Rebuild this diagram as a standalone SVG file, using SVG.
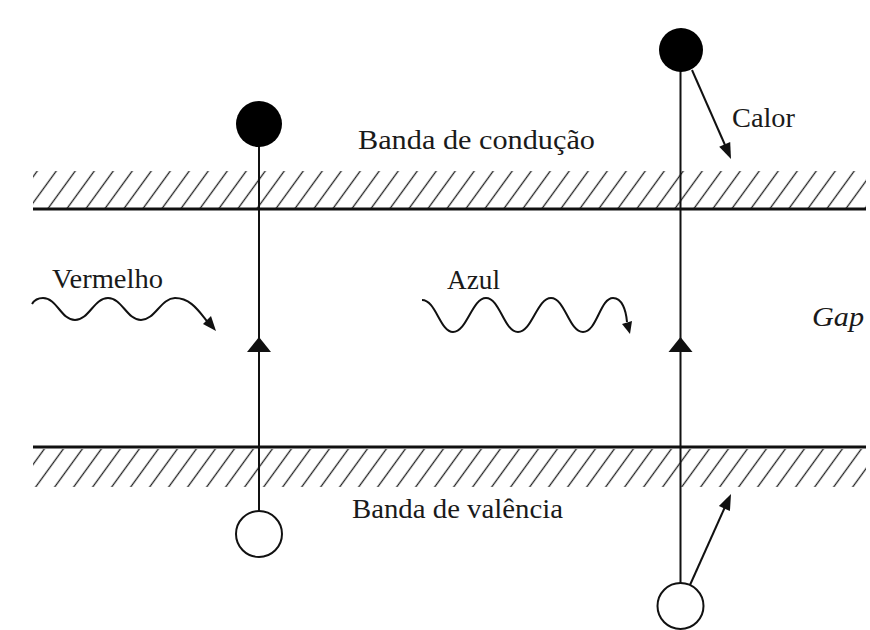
<svg xmlns="http://www.w3.org/2000/svg" width="870" height="630" viewBox="0 0 870 630">
  <style>
    .lbl { font-family: "Liberation Serif", "Times New Roman", serif; font-size: 27px; fill: #1a1a1a; }
    .band { stroke: #111; stroke-width: 3; }
    .vline { stroke: #111; stroke-width: 2; fill: none; }
    .wave { stroke: #111; stroke-width: 2; fill: none; }
    .head { fill: #111; }
    .hole { fill: #fff; stroke: #111; stroke-width: 2; }
    .elec { fill: #000; }
  </style>
  <defs>
    <pattern id="hatch" patternUnits="userSpaceOnUse" width="19" height="36" patternTransform="skewX(-36)">
      <line x1="9.5" y1="0" x2="9.5" y2="36" stroke="#222" stroke-width="1.6"/>
    </pattern>
  </defs>
  <rect width="870" height="630" fill="#fff"/>

  <g id="conduction-band">
    <rect x="33" y="171" width="833" height="37" fill="url(#hatch)"/>
    <line class="band" x1="33" y1="209" x2="866" y2="209"/>
  </g>
  <g id="valence-band">
    <rect x="33" y="449" width="833" height="38" fill="url(#hatch)"/>
    <line class="band" x1="33" y1="447" x2="866" y2="447"/>
  </g>

  <g id="connectors">
    <line class="vline" x1="259" y1="146" x2="259" y2="511"/>
    <line class="vline" x1="680.5" y1="71" x2="680.5" y2="584"/>
    <polygon class="head" points="259,337 247,352 271,352"/>
    <polygon class="head" points="680.5,337 668.5,352 692.5,352"/>
    <path class="wave" d="M32,304 C35,299 39,298 43,298 C57,298 61,320 75,320 C89,320 94,298 108,298 C122,298 127,320 141,320 C155,320 161,298 175,298 C190,298 198,310 207,321"/>
    <polygon class="head" points="216,331 203,324 211,316"/>
    <path class="wave" d="M422,300 C436,300 440,332 453,332 C467,332 472,298 486,298 C500,298 504,332 518,332 C532,332 537,298 551,298 C565,298 569,332 583,332 C597,332 600,298 613,298 C622,298 626,310 627,322"/>
    <polygon class="head" points="630,334 622,324 632,321"/>
    <line class="vline" x1="692" y1="70" x2="725" y2="145"/>
    <polygon class="head" points="731,159 719.2,146.7 730.2,141.9"/>
    <line class="vline" x1="690" y1="585" x2="724.5" y2="508"/>
    <polygon class="head" points="731,494 729.9,511.1 718.9,506.1"/>
  </g>

  <g id="electron-left"><circle class="elec" cx="259" cy="124" r="23"/></g>
  <g id="hole-left"><circle class="hole" cx="259" cy="534" r="23"/></g>
  <g id="electron-right"><circle class="elec" cx="681" cy="50" r="22"/></g>
  <g id="hole-right"><circle class="hole" cx="680.5" cy="606" r="23"/></g>

  <g id="labels">
    <text class="lbl" x="358" y="149" font-size="28" textLength="237" lengthAdjust="spacingAndGlyphs">Banda de condução</text>
    <text class="lbl" x="352" y="518" font-size="28" textLength="211" lengthAdjust="spacingAndGlyphs">Banda de valência</text>
    <text class="lbl" x="52" y="288" textLength="111" lengthAdjust="spacingAndGlyphs">Vermelho</text>
    <text class="lbl" x="447" y="289" textLength="53" lengthAdjust="spacingAndGlyphs">Azul</text>
    <text class="lbl" x="732" y="127" textLength="63" lengthAdjust="spacingAndGlyphs">Calor</text>
    <text class="lbl" x="812" y="326" font-style="italic" font-size="23" textLength="52" lengthAdjust="spacingAndGlyphs">Gap</text>
  </g>
</svg>
